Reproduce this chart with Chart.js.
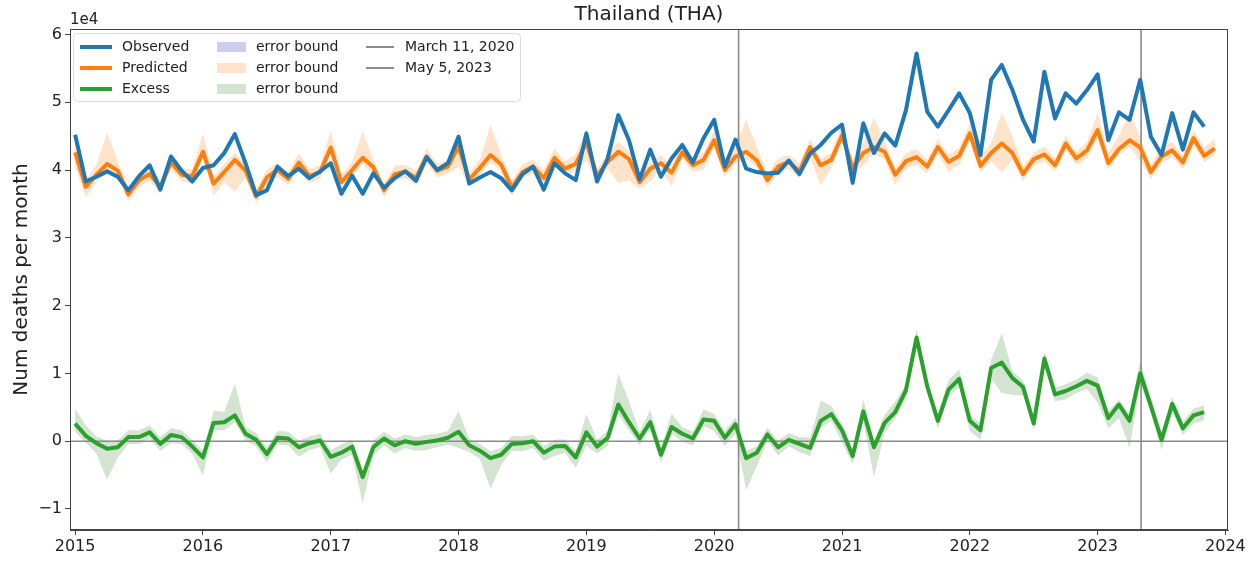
<!DOCTYPE html>
<html>
<head>
<meta charset="utf-8">
<script src="https://cdn.jsdelivr.net/npm/chart.js@4.4.1/dist/chart.umd.min.js"></script>
<style>
html,body{margin:0;padding:0;background:#fff;overflow:hidden}
#wrap{width:1259px;height:561px;position:relative}
</style>
</head>
<body>
<div id="wrap"><canvas id="c" width="1259" height="561"></canvas></div>
<script>
// ---- text ----
const titleText = 'Thailand (THA)';
const yAxisLabel = 'Num deaths per month';
const yOffsetLabel = '1e4';
const seriesNames = ['Observed', 'Predicted', 'Excess'];
const boundLabel = 'error bound';
const eventLabels = ['March 11, 2020', 'May 5, 2023'];
const eventDates = [2020.191, 2023.340];   // decimal years
const xTicks = [2015, 2016, 2017, 2018, 2019, 2020, 2021, 2022, 2023, 2024];
const yTicks = [-1, 0, 1, 2, 3, 4, 5, 6];
const startYear = 2015;                     // first month = Jan 2015, monthly

// ---- values, in units of 10^4 deaths per month ----
const observed = [
 4.52,3.83,3.90,3.98,3.90,3.70,3.91,4.07,3.71,4.20,3.99,3.83,
 4.03,4.07,4.25,4.53,4.10,3.63,3.70,4.05,3.91,4.02,3.88,3.98,
 4.10,3.65,3.92,3.65,3.95,3.74,3.88,3.98,3.84,4.19,4.00,4.10,
 4.49,3.80,3.89,3.97,3.88,3.70,3.94,4.05,3.71,4.10,3.95,3.85,
 4.54,3.83,4.17,4.81,4.44,3.86,4.30,3.90,4.17,4.37,4.11,4.47,
 4.74,4.05,4.45,4.02,3.97,3.95,3.96,4.14,3.94,4.24,4.37,4.55,
 4.67,3.81,4.69,4.25,4.54,4.36,4.88,5.72,4.86,4.64,4.88,5.13,
 4.84,4.22,5.33,5.55,5.18,4.74,4.42,5.45,4.76,5.13,4.98,5.18,
 5.41,4.44,4.85,4.74,5.33,4.49,4.22,4.84,4.30,4.85,4.64];
const predicted = [
 4.26,3.75,3.93,4.09,3.99,3.64,3.85,3.94,3.75,4.11,3.93,3.91,
 4.27,3.80,3.97,4.15,3.99,3.61,3.89,4.00,3.87,4.11,3.91,3.97,
 4.33,3.82,4.00,4.18,4.04,3.70,3.94,3.98,3.88,4.20,3.99,4.05,
 4.35,3.86,4.03,4.22,4.08,3.74,3.97,4.05,3.88,4.18,4.02,4.09,
 4.41,3.91,4.12,4.27,4.16,3.82,4.02,4.10,3.96,4.26,4.07,4.15,
 4.44,4.00,4.20,4.27,4.14,3.85,4.05,4.12,3.98,4.34,4.07,4.15,
 4.51,4.03,4.25,4.34,4.27,3.93,4.13,4.19,4.05,4.34,4.12,4.21,
 4.54,4.06,4.25,4.39,4.25,3.94,4.16,4.23,4.07,4.39,4.17,4.29,
 4.59,4.10,4.31,4.44,4.33,3.97,4.20,4.29,4.11,4.47,4.21,4.32];
const excess = [
 0.26,0.08,-0.03,-0.11,-0.09,0.06,0.06,0.13,-0.04,0.09,0.06,-0.08,
 -0.24,0.27,0.28,0.38,0.11,0.02,-0.19,0.05,0.04,-0.09,-0.03,0.01,
 -0.23,-0.17,-0.08,-0.53,-0.09,0.04,-0.06,0.00,-0.04,-0.01,0.01,0.05,
 0.14,-0.06,-0.14,-0.25,-0.20,-0.04,-0.03,0.00,-0.17,-0.08,-0.07,-0.24,
 0.13,-0.08,0.05,0.54,0.28,0.04,0.28,-0.20,0.21,0.11,0.04,0.32,
 0.30,0.05,0.25,-0.25,-0.17,0.10,-0.09,0.02,-0.04,-0.10,0.30,0.40,
 0.16,-0.22,0.44,-0.09,0.27,0.43,0.75,1.53,0.81,0.30,0.76,0.92,
 0.30,0.16,1.08,1.16,0.93,0.80,0.26,1.22,0.69,0.74,0.81,0.89,
 0.82,0.34,0.54,0.30,1.00,0.52,0.02,0.55,0.19,0.38,0.43];
// prediction error bound: distance above / below the prediction
const errUp = [
 0.12,0.10,0.15,0.46,0.15,0.10,0.10,0.10,0.10,0.12,0.10,0.10,
 0.27,0.10,0.12,0.10,0.10,0.10,0.12,0.10,0.10,0.14,0.10,0.10,
 0.25,0.10,0.12,0.39,0.12,0.10,0.12,0.10,0.10,0.12,0.10,0.10,
 0.24,0.10,0.12,0.45,0.15,0.10,0.12,0.10,0.12,0.14,0.10,0.15,
 0.20,0.10,0.12,0.15,0.12,0.10,0.10,0.12,0.10,0.12,0.10,0.10,
 0.15,0.12,0.14,0.47,0.20,0.10,0.12,0.10,0.12,0.12,0.10,0.10,
 0.18,0.12,0.15,0.44,0.15,0.10,0.12,0.12,0.10,0.12,0.10,0.12,
 0.15,0.14,0.15,0.45,0.25,0.12,0.10,0.12,0.10,0.12,0.10,0.12,
 0.25,0.15,0.20,0.40,0.15,0.10,0.15,0.12,0.10,0.12,0.12,0.15];
const errDown = [
 0.22,0.15,0.10,0.12,0.10,0.10,0.10,0.10,0.10,0.10,0.10,0.10,
 0.10,0.18,0.15,0.47,0.10,0.10,0.10,0.10,0.10,0.10,0.10,0.10,
 0.10,0.12,0.10,0.10,0.10,0.10,0.10,0.10,0.10,0.10,0.10,0.10,
 0.30,0.10,0.10,0.10,0.10,0.12,0.10,0.10,0.10,0.10,0.10,0.10,
 0.27,0.10,0.10,0.46,0.31,0.10,0.18,0.10,0.20,0.10,0.10,0.15,
 0.10,0.10,0.10,0.10,0.10,0.10,0.10,0.10,0.10,0.15,0.30,0.12,
 0.10,0.10,0.18,0.10,0.12,0.15,0.10,0.12,0.10,0.10,0.14,0.14,
 0.10,0.10,0.12,0.43,0.10,0.10,0.10,0.10,0.10,0.10,0.10,0.12,
 0.12,0.10,0.08,0.10,0.20,0.10,0.10,0.10,0.10,0.10,0.10,0.10];

// ---- styling ----
const FONT = 'DejaVu Sans';
const TXT = '#222';
const seriesColors = ['#1f77b4', '#ff7f0e', '#2ca02c'];
const bandFill = ['rgba(70,80,200,0.28)', 'rgba(255,127,14,0.22)', 'rgba(55,130,45,0.22)'];
const refLineColor = '#8a8a8a';
const xRange = [2014.96, 2024.02];
const yRange = [-1.31, 6.08];

const monthX = i => startYear + i / 12;
const pts = arr => arr.map((v, i) => ({ x: monthX(i), y: v }));

const predUpper = predicted.map((v, i) => ({ x: monthX(i), y: v + errUp[i] }));
const predLower = predicted.map((v, i) => ({ x: monthX(i), y: v - errDown[i] }));
const excUpper = excess.map((v, i) => ({ x: monthX(i), y: v + errDown[i] }));
const excLower = excess.map((v, i) => ({ x: monthX(i), y: v - errUp[i] }));

const lineDs = (label, data, color, width) => ({
  label, data, borderColor: color, backgroundColor: color, borderWidth: width,
  pointRadius: 0, tension: 0, fill: false, borderJoinStyle: 'round', borderCapStyle: 'butt'
});
const bandDs = (label, data, color, fill) => ({
  label, data, borderWidth: 0, borderColor: 'rgba(0,0,0,0)', backgroundColor: color,
  pointRadius: 0, tension: 0, fill
});

const datasets = [
  lineDs(seriesNames[0], pts(observed), seriesColors[0], 4),
  lineDs(seriesNames[1], pts(predicted), seriesColors[1], 4),
  lineDs(seriesNames[2], pts(excess), seriesColors[2], 4),
  lineDs(eventLabels[0], [{x: eventDates[0], y: yRange[0]}, {x: eventDates[0], y: yRange[1]}], refLineColor, 1.6),
  lineDs(eventLabels[1], [{x: eventDates[1], y: yRange[0]}, {x: eventDates[1], y: yRange[1]}], refLineColor, 1.6),
  lineDs('zero', [{x: xRange[0], y: 0}, {x: xRange[1], y: 0}], refLineColor, 1.6),
  bandDs(boundLabel, predUpper, bandFill[1], '+1'),
  bandDs(boundLabel, predLower, bandFill[1], false),
  bandDs(boundLabel, excUpper, bandFill[2], '+1'),
  bandDs(boundLabel, excLower, bandFill[2], false)
];

const framePlugin = {
  id: 'frame',
  afterDraw(chart) {
    const { ctx, chartArea: a } = chart;
    ctx.save();
    ctx.strokeStyle = '#444';
    ctx.lineWidth = 1;
    ctx.strokeRect(Math.round(a.left) + 0.5, Math.round(a.top) + 0.5, Math.round(a.width) - 1, Math.round(a.height) - 1);
    ctx.fillStyle = TXT;
    ctx.font = '15px "' + FONT + '"';
    ctx.textBaseline = 'alphabetic';
    ctx.textAlign = 'left';
    ctx.fillText(yOffsetLabel, a.left, a.top - 5);
    ctx.restore();
  }
};

const legendPlugin = {
  id: 'boxLegend',
  afterDatasetsDraw(chart) {
    const { ctx, chartArea: a } = chart;
    const L = a.left, T = a.top;
    ctx.save();
    const bx = L + 3.5, by = T + 4.5, bw = 447, bh = 68;
    ctx.beginPath();
    if (ctx.roundRect) ctx.roundRect(bx, by, bw, bh, 4); else ctx.rect(bx, by, bw, bh);
    ctx.fillStyle = 'rgba(255,255,255,0.85)';
    ctx.fill();
    ctx.strokeStyle = '#dcdcdc';
    ctx.lineWidth = 1;
    ctx.stroke();
    ctx.font = '14px "' + FONT + '"';
    ctx.textBaseline = 'middle';
    ctx.textAlign = 'left';
    const rows = [T + 18, T + 39, T + 60];
    seriesNames.forEach((name, i) => {
      ctx.strokeStyle = seriesColors[i];
      ctx.lineWidth = 4;
      ctx.beginPath(); ctx.moveTo(L + 10, rows[i]); ctx.lineTo(L + 42, rows[i]); ctx.stroke();
      ctx.fillStyle = TXT;
      ctx.fillText(name, L + 52, rows[i]);
    });
    bandFill.forEach((c, i) => {
      ctx.fillStyle = c;
      ctx.fillRect(L + 147, rows[i] - 5, 29, 10);
      ctx.fillStyle = TXT;
      ctx.fillText(boundLabel, L + 186, rows[i]);
    });
    eventLabels.forEach((lab, i) => {
      ctx.strokeStyle = refLineColor;
      ctx.lineWidth = 2;
      ctx.beginPath(); ctx.moveTo(L + 296, rows[i]); ctx.lineTo(L + 324, rows[i]); ctx.stroke();
      ctx.fillStyle = TXT;
      ctx.fillText(lab, L + 335, rows[i]);
    });
    ctx.restore();
  }
};

Chart.defaults.font.family = FONT;
Chart.defaults.color = TXT;

new Chart(document.getElementById('c'), {
  type: 'line',
  data: { datasets },
  options: {
    responsive: false,
    animation: false,
    devicePixelRatio: 1,
    layout: { padding: { left: 0, right: 31, top: 0, bottom: 0 } },
    plugins: {
      legend: { display: false },
      tooltip: { enabled: false },
      title: {
        display: true, text: titleText, fullSize: false, color: TXT,
        font: { family: FONT, size: 20, weight: 'normal', lineHeight: 1.2 },
        padding: { top: 3, bottom: 2 }
      }
    },
    scales: {
      x: {
        type: 'linear', min: xRange[0], max: xRange[1],
        afterBuildTicks: s => { s.ticks = xTicks.map(v => ({ value: v })); },
        afterFit: s => { s.height = 31; },
        ticks: { callback: v => String(v), font: { size: 16 }, color: TXT, padding: 2, maxRotation: 0, autoSkip: false },
        grid: { drawOnChartArea: false, drawTicks: true, tickLength: 5, color: '#444' },
        border: { display: true, color: '#444' }
      },
      y: {
        type: 'linear', min: yRange[0], max: yRange[1],
        afterBuildTicks: s => { s.ticks = yTicks.map(v => ({ value: v })); },
        afterFit: s => { s.width = 70; },
        ticks: { callback: v => (v < 0 ? '\u2212' + Math.abs(v) : String(v)), font: { size: 16 }, color: TXT, padding: 3, autoSkip: false },
        grid: { drawOnChartArea: false, drawTicks: true, tickLength: 5, color: '#444' },
        border: { display: true, color: '#444' },
        title: { display: true, text: yAxisLabel, color: TXT, font: { size: 20, lineHeight: 1.2 }, padding: { top: 10, bottom: 0 } }
      }
    }
  },
  plugins: [framePlugin, legendPlugin]
});
</script>
</body>
</html>
